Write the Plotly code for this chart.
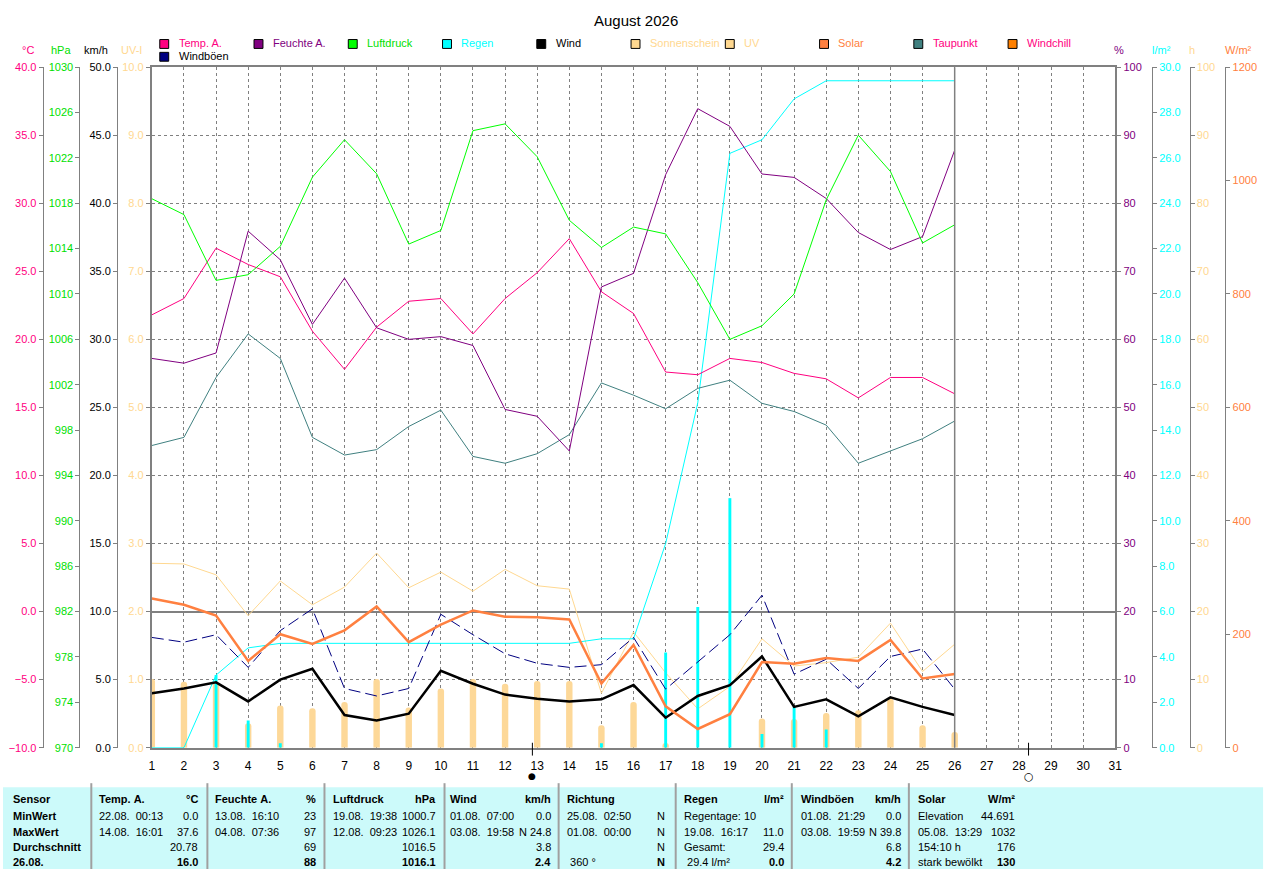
#!/usr/bin/env python3
"""
Monthly weather station overview (August 2026) drawn with plotly.
Daily values for all sensors on eight stacked y axes plus the summary table.
"""

import plotly.graph_objects as go

W, H = 1280, 875

# ---- daily data (1.08. - 26.08.) ----
days = list(range(1, 27))
temp = [21.8, 23.0, 26.7, 25.5, 24.6, 20.6, 17.8, 20.9, 22.8, 23.0, 20.4, 23.0, 24.9,
        27.4, 23.5, 21.9, 17.6, 17.4, 18.6, 18.3, 17.5, 17.1, 15.7, 17.2, 17.2, 16.0]
humidity = [57.2, 56.5, 58.0, 75.9, 71.7, 62.2, 69.0, 61.7, 60.0, 60.4, 59.1, 49.7, 48.7,
            43.6, 67.7, 69.7, 84.2, 93.9, 91.3, 84.3, 83.8, 80.7, 75.7, 73.2, 75.1, 87.8]
pressure = [1018.4, 1017.0, 1011.2, 1011.7, 1014.2, 1020.3, 1023.6, 1020.6, 1014.4, 1015.6,
            1024.4, 1025.0, 1022.1, 1016.5, 1014.1, 1015.9, 1015.3, 1011.0, 1006.0, 1007.2,
            1010.0, 1018.3, 1024.0, 1020.8, 1014.5, 1016.1]
dewpoint = [12.2, 12.8, 17.2, 20.4, 18.6, 12.8, 11.5, 11.9, 13.6, 14.8, 11.4, 10.9, 11.6,
            13.0, 16.8, 15.9, 14.9, 16.4, 17.0, 15.3, 14.7, 13.7, 10.9, 11.8, 12.7, 14.0]
rain_total = [0.0, 0.0, 3.2, 4.4, 4.6, 4.6, 4.6, 4.6, 4.6, 4.6, 4.6, 4.6, 4.6,
              4.6, 4.8, 4.8, 9.0, 15.2, 26.2, 26.8, 28.6, 29.4, 29.4, 29.4, 29.4, 29.4]
rain_day = [0, 0, 3.2, 1.2, 0.2, 0, 0, 0, 0, 0, 0, 0, 0,
            0, 0.2, 0, 4.2, 6.2, 11.0, 0.6, 1.8, 0.8, 0, 0, 0, 0]
wind = [4.0, 4.35, 4.8, 3.4, 5.0, 5.8, 2.4, 2.0, 2.5, 5.65, 4.7, 3.9, 3.6,
        3.4, 3.55, 4.6, 2.2, 3.8, 4.6, 6.7, 3.0, 3.55, 2.3, 3.7, 3.0, 2.4]
gusts = [8.1, 7.75, 8.3, 5.9, 8.6, 10.2, 4.35, 3.8, 4.35, 9.8, 8.3, 6.9, 6.2,
         5.9, 6.1, 8.1, 4.3, 6.3, 8.3, 11.2, 5.4, 6.5, 4.35, 6.7, 7.25, 4.3]
uv = [2.71, 2.7, 2.54, 1.94, 2.45, 2.1, 2.36, 2.86, 2.35, 2.58, 2.3, 2.62, 2.38,
      2.33, 0.8, 1.7, 1.1, 0.57, 0.9, 1.6, 1.2, 1.25, 1.33, 1.83, 1.12, 1.52]
solar = [263, 252, 233, 153, 200, 183, 207, 249, 186, 217, 242, 231, 230,
         226, 113, 181, 73, 33, 59, 151, 148, 158, 153, 190, 122, 130]
sunshine = [10.1, 9.7, 9.7, 3.6, 6.2, 5.8, 6.7, 10.1, 5.9, 8.7, 10.1, 9.4, 9.8,
            9.8, 3.3, 6.7, 0.7, 0, 0, 4.3, 4.2, 5.1, 5.5, 7.2, 3.3, 2.3]

current_day = 26
moon_new = [12.85]
moon_full = [28.3]

# ---- summary table ----
table_header = ["Sensor", "MinWert", "MaxWert", "Durchschnitt", "26.08."]
table_cols = [
    # (title, unit, [left texts], [right texts])
    ("Temp. A.", "°C", ["22.08.  00:13", "14.08.  16:01", "", ""], ["0.0", "37.6", "20.78", "16.0"]),
    ("Feuchte A.", "%", ["13.08.  16:10", "04.08.  07:36", "", ""], ["23", "97", "69", "88"]),
    ("Luftdruck", "hPa", ["19.08.  19:38", "12.08.  09:23", "", ""], ["1000.7", "1026.1", "1016.5", "1016.1"]),
    ("Wind", "km/h", ["01.08.  07:00", "03.08.  19:58", "", ""], ["0.0", "N 24.8", "3.8", "2.4"]),
    ("Richtung", "", ["25.08.  02:50", "01.08.  00:00", "", " 360 °"], ["N", "N", "N", "N"]),
    ("Regen", "l/m²", ["Regentage: 10", "19.08.  16:17", "Gesamt:", " 29.4 l/m²"], ["", "11.0", "29.4", "0.0"]),
    ("Windböen", "km/h", ["01.08.  21:29", "03.08.  19:59", "", ""], ["0.0", "N 39.8", "6.8", "4.2"]),
    ("Solar", "W/m²", ["Elevation", "05.08.  13:29", "154:10 h", "stark bewölkt"], ["44.691", "1032", "176", "130"]),
]
col_left = [95, 212, 331, 448, 566, 684, 802, 920]
col_right = [199, 317, 438, 554, 669, 789, 907, 1022]
col_sep = [89, 206, 324, 445, 560, 678, 795, 913]
row_y = [804, 821, 837, 853, 868]

# ---- legend ----
legend_items = [
    ("Temp. A.", "#FF0080", "#FF0080"), ("Feuchte A.", "#800080", "#800080"),
    ("Luftdruck", "#00FF00", "#00E000"), ("Regen", "#00FFFF", "#00FFFF"),
    ("Wind", "#000000", "#000000"), ("Sonnenschein", "#FFD890", "#FFD890"),
    ("UV", "#FFD890", "#FFD890"), ("Solar", "#FF8040", "#FF8040"),
    ("Taupunkt", "#408080", "#FF0080"), ("Windchill", "#FF8000", "#FF0080"),
]

PINK, PURPLE, GREEN, CYAN = "#FF0080", "#800080", "#00E000", "#00FFFF"
LIGHT, ORANGE, GREY = "#FFD890", "#FF8040", "#808080"
FONT = "Liberation Sans"


def px(x):
    return x / W


def py(y):
    return 1 - y / H


def axis(title_color, rng, dtick, fmt, **kw):
    d = dict(range=rng, dtick=dtick, tick0=rng[0], tickformat=fmt, showgrid=False,
             zeroline=False, showline=True, linecolor=GREY, linewidth=1,
             ticks="outside", ticklen=4, tickcolor=GREY,
             tickfont=dict(family=FONT, size=11, color=title_color),
             domain=[py(752), py(62)], fixedrange=True)
    d.update(kw)
    return d


fig = go.Figure()

# bars first (lowest layers)
fig.add_trace(go.Bar(x=days, y=sunshine, yaxis="y2", width=0.2,
                     marker=dict(color="#FDD898", line_width=0, cornerradius=3)))
fig.add_trace(go.Bar(x=days, y=rain_day, yaxis="y3", width=0.09,
                     marker=dict(color=CYAN, line_width=0)))
fig.add_trace(go.Scatter(x=days, y=rain_total, yaxis="y3", mode="lines",
                         line=dict(color=CYAN, width=1)))
fig.add_trace(go.Scatter(x=days, y=uv, yaxis="y", mode="lines",
                         line=dict(color=LIGHT, width=1)))
fig.add_trace(go.Scatter(x=days, y=dewpoint, yaxis="y4", mode="lines",
                         line=dict(color="#408080", width=1)))
fig.add_trace(go.Scatter(x=days, y=temp, yaxis="y4", mode="lines",
                         line=dict(color=PINK, width=1)))
fig.add_trace(go.Scatter(x=days, y=humidity, yaxis="y5", mode="lines",
                         line=dict(color=PURPLE, width=1)))
fig.add_trace(go.Scatter(x=days, y=pressure, yaxis="y6", mode="lines",
                         line=dict(color="#00FF00", width=1)))
fig.add_trace(go.Scatter(x=days, y=solar, yaxis="y8", mode="lines",
                         line=dict(color=ORANGE, width=2.5)))
fig.add_trace(go.Scatter(x=days, y=gusts, yaxis="y7", mode="lines",
                         line=dict(color="#000080", width=1, dash="12px,5px")))
fig.add_trace(go.Scatter(x=days, y=wind, yaxis="y7", mode="lines",
                         line=dict(color="#000000", width=2.5)))

fig.update_layout(
    width=W, height=H, autosize=False, margin=dict(l=0, r=0, t=0, b=0, pad=0),
    paper_bgcolor="white", plot_bgcolor="white", showlegend=False,
    barmode="overlay",
    xaxis=dict(range=[1, 31], domain=[px(150), px(1121)], dtick=1, tick0=1,
               showgrid=True, gridcolor=GREY, griddash="3px,3px", gridwidth=1,
               showline=True, mirror=True, linecolor=GREY, linewidth=2,
               ticks="", zeroline=False, fixedrange=True, ticklabelstandoff=6,
               tickfont=dict(family=FONT, size=12, color="black")),
    yaxis=axis(LIGHT, [0, 10], 1, ".1f", anchor="x", side="left", linewidth=2),
    yaxis2=axis(LIGHT, [0, 100], 10, "d", overlaying="y", anchor="free",
                side="right", position=px(1196)),
    yaxis3=axis(CYAN, [0, 30], 2, ".1f", overlaying="y", anchor="free",
                side="right", position=px(1158)),
    yaxis4=axis(PINK, [-10, 40], 5, ".1f", overlaying="y", anchor="free",
                side="left", position=px(40), showgrid=True, gridcolor=GREY,
                griddash="3px,3px", zeroline=True, zerolinecolor=GREY,
                zerolinewidth=2),
    yaxis5=axis(PURPLE, [0, 100], 10, "d", overlaying="y", anchor="x",
                side="right", linewidth=2),
    yaxis6=axis(GREEN, [970, 1030], 4, "d", overlaying="y", anchor="free",
                side="left", position=px(77)),
    yaxis7=axis("black", [0, 50], 5, ".1f", overlaying="y", anchor="free",
                side="left", position=px(115)),
    yaxis8=axis(ORANGE, [0, 1200], 200, "d", overlaying="y", anchor="free",
                side="right", position=px(1232)),
)

shapes = []
annotations = []


def label(text, x, y, color="black", size=11, anchor="center", xref="paper", family=FONT):
    annotations.append(dict(text=text, x=x, y=py(y), xref=xref, yref="paper",
                            xanchor=anchor, yanchor="middle", showarrow=False,
                            font=dict(family=family, size=size, color=color)))


# current day marker
shapes.append(dict(type="line", xref="x", yref="paper", x0=current_day, x1=current_day,
                   y0=py(752), y1=py(62), line=dict(color=GREY, width=1.5)))

# title
label("August 2026", px(638), 15, size=15)

# axis units
for txt, x, col in [("°C", 25, PINK), ("hPa", 58, GREEN), ("km/h", 94, "black"),
                    ("UV-I", 130, LIGHT), ("%", 1125, PURPLE), ("l/m²", 1168, CYAN),
                    ("h", 1198, LIGHT), ("W/m²", 1245, ORANGE)]:
    label(txt, px(x), 45, col)


def legend_entry(text, sq_color, txt_color, x, y):
    shapes.append(dict(type="rect", xref="paper", yref="paper",
                       x0=px(x - 4), x1=px(x + 5), y0=py(y + 5), y1=py(y - 4),
                       fillcolor=sq_color, line=dict(color="black", width=1)))
    label(text, px(x + 13), y, txt_color, anchor="left")


for i, (text, sq, tc) in enumerate(legend_items):
    legend_entry(text, sq, tc, 162 + i * 95, 38)
legend_entry("Windböen", "#000080", "black", 162, 51)

# moon phases below the axis
for d in moon_new + moon_full:
    shapes.append(dict(type="line", xref="x", yref="paper", x0=d, x1=d,
                       y0=py(760), y1=py(747), line=dict(color="black", width=1)))
for d in moon_new:
    label("●", d, 781, size=9, xref="x", family="DejaVu Sans")
for d in moon_full:
    label("○", d, 781, size=11, xref="x", family="DejaVu Sans")

# summary table
shapes.append(dict(type="rect", xref="paper", yref="paper", x0=0, x1=px(1270),
                   y0=0, y1=py(792), fillcolor="#CCFAFA", line_width=0, layer="below"))
for x in col_sep:
    shapes.append(dict(type="line", xref="paper", yref="paper", x0=px(x), x1=px(x),
                       y0=0, y1=py(788), line=dict(color="#A0A0A0", width=2)))


def cell(text, x, y, anchor, bold):
    if not text:
        return
    text = text.replace(" ", "\u00a0")
    label(f"<b>{text}</b>" if bold else text, px(x), y, anchor=anchor)


for r, t in enumerate(table_header):
    cell(t, 8, row_y[r], "left", True)
for c, (title, unit, lefts, rights) in enumerate(table_cols):
    cell(title, col_left[c], row_y[0], "left", True)
    cell(unit, col_right[c], row_y[0], "right", True)
    for r in range(4):
        last = r == 3
        cell(lefts[r], col_left[c], row_y[r + 1], "left", False)
        cell(rights[r], col_right[c], row_y[r + 1], "right", last)

fig.update_layout(shapes=shapes, annotations=annotations)

fig.write_html(
    "out.html",
    config={"displayModeBar": False},
    post_script="document.body.style.margin='0';",
)
print("wrote out.html")
